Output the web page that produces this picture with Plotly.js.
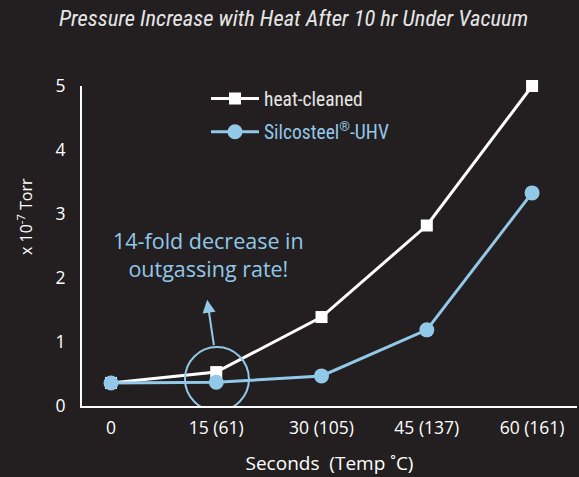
<!DOCTYPE html>
<html>
<head>
<meta charset="utf-8">
<script src="https://cdn.plot.ly/plotly-3.0.1.min.js"></script>
<style>html,body{margin:0;padding:0;background:#231f20;}#chart{width:579px;height:477px;}</style>
</head>
<body>
<div id="chart"></div>
<script>
// Data
const seconds = [0, 15, 30, 45, 60];
const tickLabels = ['0', '15 (61)', '30 (105)', '45 (137)', '60 (161)'];
const heatCleaned = [0.36, 0.53, 1.39, 2.82, 5.0];
const silcosteel = [0.36, 0.37, 0.47, 1.19, 3.33];

const BG = '#231f20';
const BLUE = '#92c8e8';
const WHITE = '#ffffff';
const SANS = 'Open Sans, Noto Sans, sans-serif';
const NARROW = 'Liberation Sans Narrow, Roboto Condensed, Liberation Sans, sans-serif';

const traces = [
  {
    x: seconds, y: heatCleaned, name: 'heat-cleaned', type: 'scatter', mode: 'lines+markers',
    line: {color: WHITE, width: 3}, marker: {symbol: 'square', size: 12, color: WHITE},
    legendgroup: 'a', cliponaxis: false
  },
  {
    x: seconds, y: silcosteel, name: '<span style="color:' + BLUE + '">Silcosteel<sup>®</sup>-UHV</span>',
    type: 'scatter', mode: 'lines+markers',
    line: {color: BLUE, width: 3}, marker: {symbol: 'circle', size: 15, color: BLUE},
    legendgroup: 'b', cliponaxis: false
  }
];

const layout = {
  width: 579, height: 477,
  paper_bgcolor: BG, plot_bgcolor: BG,
  margin: {l: 82, r: 2, t: 86, b: 71, autoexpand: false},
  hovermode: false,
  title: {
    text: '<i>Pressure Increase with Heat After 10 hr Under Vacuum</i>',
    font: {family: NARROW, size: 22.5, color: '#e6e6e6'},
    x: 0.507, xanchor: 'center', y: 0.963, yanchor: 'middle', xref: 'container', yref: 'container'
  },
  xaxis: {
    range: [-4.13, 66.4], tickvals: seconds, ticktext: tickLabels, tickangle: 0,
    showgrid: false, zeroline: false, showline: true, linecolor: WHITE, linewidth: 2,
    ticks: '', ticklabelstandoff: 5, automargin: false,
    tickfont: {family: SANS, size: 17.5, color: WHITE},
    title: {text: 'Seconds  (Temp ˚C)', font: {family: SANS, size: 19, color: WHITE}, standoff: 19}
  },
  yaxis: {
    range: [0, 5], tickvals: [0, 1, 2, 3, 4, 5], automargin: false,
    showgrid: false, zeroline: false, showline: true, linecolor: WHITE, linewidth: 2,
    ticks: '', ticklabelstandoff: 11,
    tickfont: {family: SANS, size: 17.5, color: WHITE}
  },
  legend: {
    x: 0.2505, y: 1.021, xref: 'paper', yref: 'paper',
    xanchor: 'left', yanchor: 'top', bgcolor: 'rgba(0,0,0,0)',
    font: {family: NARROW, size: 19.5, color: '#e6e6e6'},
    itemwidth: 48,
    traceorder: 'grouped', tracegroupgap: 5
  },
  shapes: [
    {type: 'circle', xref: 'x', yref: 'y', xsizemode: 'pixel', ysizemode: 'pixel',
     xanchor: 15.1, yanchor: 0.42, x0: -32, x1: 32, y0: -32, y1: 32,
     line: {color: BLUE, width: 2}, fillcolor: 'rgba(0,0,0,0)'}
  ],
  annotations: [
    {x: 13.7, y: 1.66, xref: 'x', yref: 'y', ax: 7, ay: 47, axref: 'pixel', ayref: 'pixel',
     showarrow: true, arrowhead: 2, arrowsize: 1.3, arrowwidth: 2, arrowcolor: BLUE, text: ''},
    {x: 13.9, y: 2.37, xref: 'x', yref: 'y', showarrow: false,
     text: '14-fold decrease in<br>outgassing rate!', align: 'center',
     font: {family: SANS, size: 21.5, color: BLUE}},
    {x: (25 - 82) / 495, y: (406 - 217) / 320, xref: 'paper', yref: 'paper', showarrow: false,
     xanchor: 'center', yanchor: 'middle', textangle: -90,
     text: 'x 10<sup>-7</sup> Torr', font: {family: SANS, size: 16, color: WHITE}}
  ]
};

Plotly.newPlot('chart', traces, layout, {displayModeBar: false, staticPlot: true});
</script>
</body>
</html>
